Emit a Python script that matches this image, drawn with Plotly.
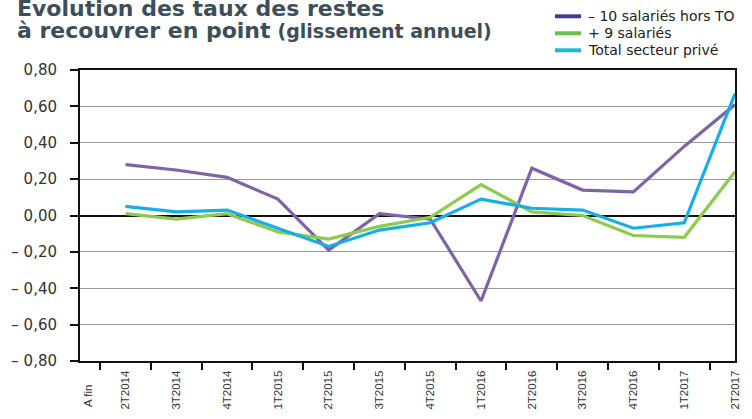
import plotly.graph_objects as go

# Quarterly categories (annual change of outstanding-debt rates, in points)
quarters = ["2T2014", "3T2014", "4T2014", "1T2015", "2T2015", "3T2015", "4T2015",
            "1T2016", "2T2016", "3T2016", "4T2016", "1T2017", "2T2017"]

moins_10_hors_to = [0.28, 0.25, 0.21, 0.09, -0.19, 0.01, -0.02,
                    -0.47, 0.26, 0.14, 0.13, 0.38, 0.61]
plus_9 = [0.01, -0.02, 0.01, -0.09, -0.13, -0.06, -0.01,
          0.17, 0.02, 0.00, -0.11, -0.12, 0.24]
total_prive = [0.05, 0.02, 0.03, -0.07, -0.17, -0.08, -0.04,
               0.09, 0.04, 0.03, -0.07, -0.04, 0.67]

series_names = ["\u2013 10 salariés hors TO", "+ 9 salariés", "Total secteur privé"]
series_values = [moins_10_hors_to, plus_9, total_prive]
line_colors = ["#7E63A6", "#8DCB4E", "#15AEE8"]
legend_colors = ["#3E3E95", "#6DBE4E", "#1ABBD2"]

y_tickvals = [0.8, 0.6, 0.4, 0.2, 0.0, -0.2, -0.4, -0.6, -0.8]
y_ticktext = ["0,80", "0,60", "0,40", "0,20", "0,00",
              "\u2013 0,20", "\u2013 0,40", "\u2013 0,60", "\u2013 0,80"]

W, H = 752, 419
L, R, T, B = 80, 17, 70, 58
plot_w = W - L - R
plot_h = H - T - B


def px_x(p):
    return (p - L) / plot_w


def px_y(p):
    return (H - B - p) / plot_h


fig = go.Figure()
for name, vals, col in zip(series_names, series_values, line_colors):
    fig.add_trace(go.Scatter(
        x=quarters, y=vals, mode="lines", name=name,
        line=dict(color=col, width=3.2), showlegend=False,
        hoverinfo="skip",
    ))

title_color = "#3D4E5B"
sans = "DejaVu Sans"
xlab_font = dict(family="Liberation Sans", size=11.5, color="#333333")

annotations = [
    dict(text="<b>Évolution des taux des restes</b>", x=px_x(15), y=px_y(8.5),
         xref="paper", yref="paper", xanchor="left", yanchor="middle",
         showarrow=False, font=dict(family=sans, size=22, color=title_color)),
    dict(text="<b>à recouvrer en point</b> <b><span style='font-size:19px'>(glissement annuel)</span></b>",
         x=px_x(15), y=px_y(30.5), xref="paper", yref="paper",
         xanchor="left", yanchor="middle", showarrow=False,
         font=dict(family=sans, size=22, color=title_color)),
    dict(text="A fin", x=quarters[0], xshift=-37.5, y=px_y(409),
         xref="x", yref="paper", textangle=-90, showarrow=False,
         xanchor="center", yanchor="bottom", font=xlab_font),
]

shapes = []
legend_rows = [16.3, 33.3, 50.3]
for name, col, yy in zip(series_names, legend_colors, legend_rows):
    shapes.append(dict(type="line", xref="paper", yref="paper",
                       x0=px_x(555), x1=px_x(581), y0=px_y(yy), y1=px_y(yy),
                       line=dict(color=col, width=4)))
    annotations.append(dict(text=name, x=px_x(586), y=px_y(yy),
                            xref="paper", yref="paper", xanchor="left",
                            yanchor="middle", showarrow=False,
                            font=dict(family=sans, size=14, color="#222222")))

fig.update_layout(
    width=W, height=H,
    margin=dict(l=L, r=R, t=T, b=B, pad=0, autoexpand=False),
    paper_bgcolor="white", plot_bgcolor="white",
    showlegend=False,
    annotations=annotations,
    shapes=shapes,
)

fig.update_xaxes(
    type="category", categoryorder="array", categoryarray=quarters,
    tickson="boundaries", ticks="outside", ticklen=7, tickwidth=2,
    tickcolor="#111111", tickangle=-90, automargin=False,
    showline=True, linecolor="#111111", linewidth=2, mirror=True,
    showgrid=False, zeroline=False, ticklabelstandoff=3,
    tickfont=xlab_font,
)
fig.update_yaxes(
    range=[-0.8, 0.8], tickvals=y_tickvals, ticktext=y_ticktext,
    ticks="outside", ticklen=8, tickwidth=2, tickcolor="#111111",
    showline=True, linecolor="#111111", linewidth=2, mirror=True,
    showgrid=True, gridcolor="#9A9A9A", gridwidth=1,
    zeroline=True, zerolinecolor="#111111", zerolinewidth=2,
    ticklabelstandoff=10, automargin=False,
    tickfont=dict(family=sans, size=15, color="#333333"),
)

fig.write_html("out.html")
